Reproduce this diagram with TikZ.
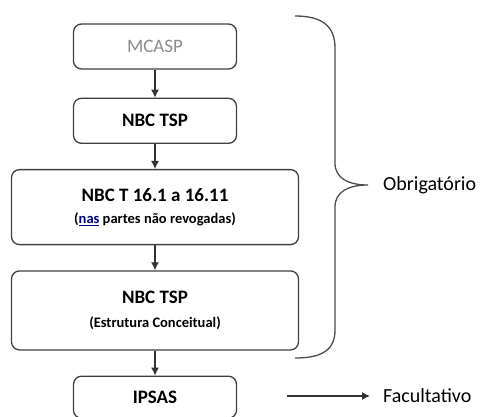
\documentclass[tikz,border=0pt]{standalone}
\usepackage{fontspec}
\setmainfont{Carlito}
\usetikzlibrary{arrows.meta,positioning,calc}
\tikzset{
box/.style = {draw=black!75, line width=1.3pt, rounded corners=8pt, fill=white, align=center, minimum width=163pt, minimum height=45pt, font=\bfseries\fontsize{19}{22}\selectfont},
widebox/.style = {box, minimum width=287pt},
brace/.style = {draw=black!70, line width=1.3pt},
side/.style = {anchor=west, inner sep=0pt, font=\fontsize{20}{24}\selectfont},
link/.style = {->, line width=1.1pt, black!80},
tmp/.style = {coordinate}
}
\newcommand{\notetext}[1]{{\bfseries\fontsize{14.5}{17}\selectfont #1}}

\begin{document}
\begin{tikzpicture}[x=1pt, y=-1pt, auto, node distance=25pt, >={Latex[length=8pt,width=8pt]}]
  \useasboundingbox (0,0) rectangle (483,416);
  \node [box, font=\fontsize{19}{22}\selectfont, text=black!45]     (mcasp)   at (155,46.5) {MCASP};
  \node [box, below=28pt of mcasp]                                  (tsp)     {NBC TSP};
  \node [widebox, minimum height=75pt, below=of tsp]                (nbct)    {NBC T 16.1 a 16.11\\[0pt]\notetext{(\textcolor{blue!50!black}{\underline{nas}} partes não revogadas)}};
  \node [widebox, minimum height=79pt, below=of nbct]               (conc)    {NBC TSP\\[2pt]\notetext{(Estrutura Conceitual)}};
  \node [box, minimum height=42pt, below=of conc]                   (ipsas)   {IPSAS};

  \draw [link] (mcasp) -- (tsp);
  \draw [link] (tsp) -- (nbct);
  \draw [link] (nbct) -- (conc);
  \draw [link] (conc) -- (ipsas);

  % chave
  \coordinate (bracetop) at (295,16);
  \coordinate (bracetip) at (368,185);
  \coordinate (bracebot) at (295,358);
  \draw [brace] (bracetop) .. controls (322,16) and (335,26) .. (335,48) -- (335,163)
    .. controls (335,178) and (348,185) .. (bracetip)
    .. controls (348,185) and (335,192) .. (335,207) -- (335,330)
    .. controls (335,350) and (322,358) .. (bracebot);
  \node [side, right=15pt of bracetip]                              (obrig)   {Obrigatório};

  \coordinate (factail) at (287,396);
  \node [side, right=96pt of factail]                               (facult)  {Facultativo};
  \draw [link, shorten >=13pt] (factail) -- (facult.west);
\end{tikzpicture}
\end{document}
